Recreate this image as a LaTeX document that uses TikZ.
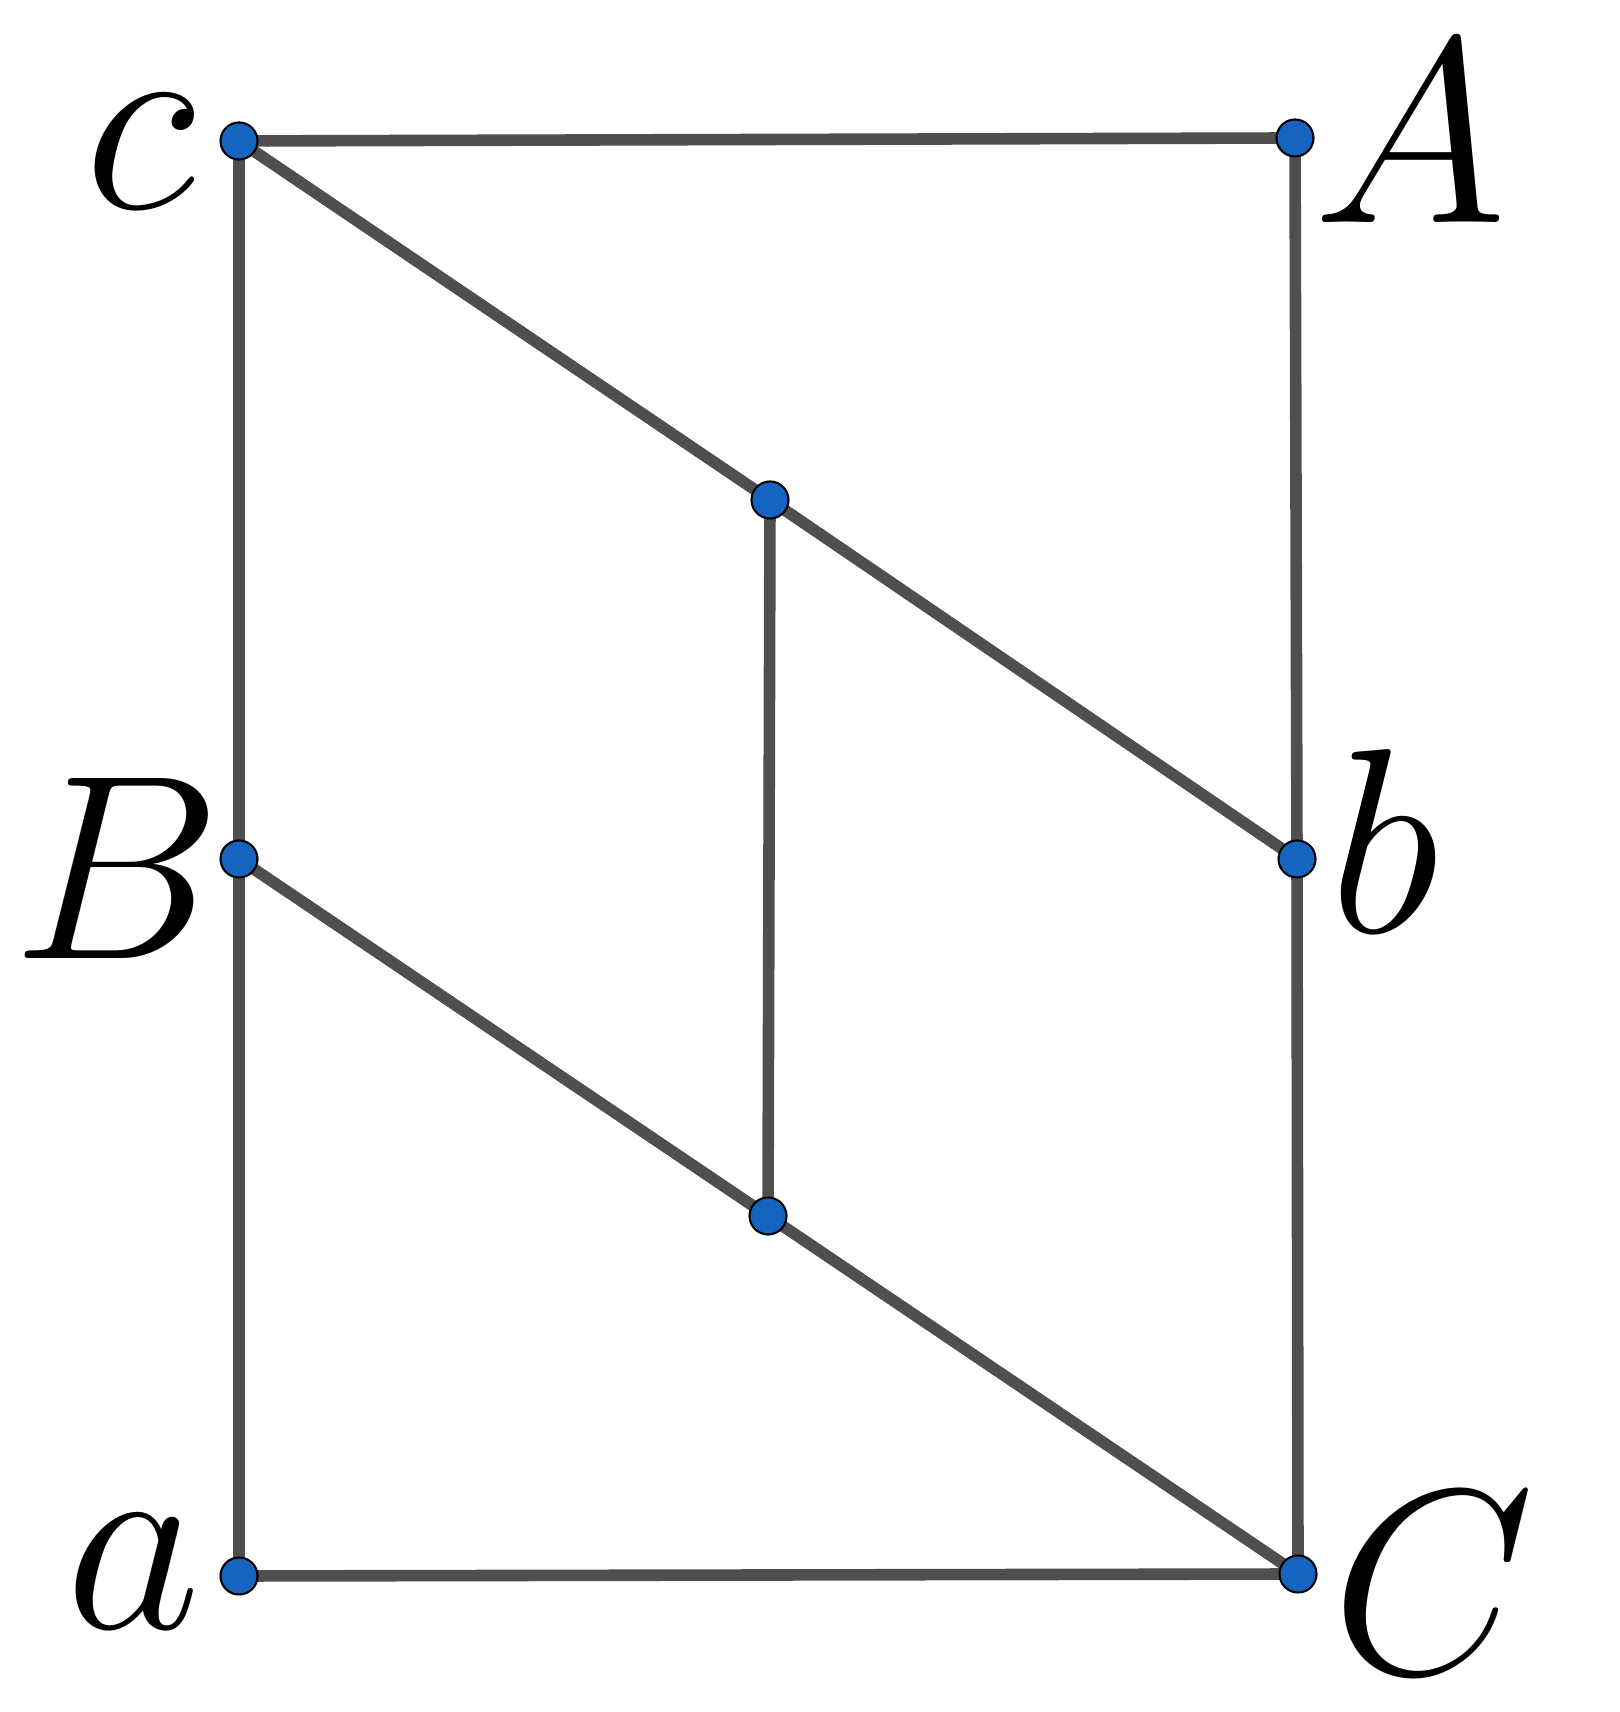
\RequirePackage{fix-cm}
\documentclass[tikz,border=0pt]{standalone}
\usepackage{tikz}
\usetikzlibrary{positioning}
\definecolor{edgegray}{HTML}{4F4F4F}
\definecolor{dotblue}{HTML}{1565C0}
\tikzset{
  seg/.style={draw=edgegray,line width=3.3pt},
  pt/.style={circle,fill=dotblue,draw=black,line width=0.6pt,minimum size=0.37cm,inner sep=0pt},
  lbl/.style={inner sep=0pt,font=\fontsize{75}{78}\selectfont}
}
\begin{document}
\begin{tikzpicture}
\useasboundingbox (0,0) rectangle (16.2,17.12);
\coordinate (c) at (2.39,15.71);
\coordinate (A) at (12.95,15.74);
\coordinate (B) at (2.39,8.53);
\coordinate (b) at (12.97,8.53);
\coordinate (a) at (2.39,1.36);
\coordinate (C) at (12.98,1.38);
\coordinate (M) at (7.70,12.12);
\coordinate (N) at (7.68,4.96);
\draw[seg] (c) -- (A) -- (b) -- (C) -- (a) -- (B) -- cycle;
\draw[seg] (c) -- (M) -- (b);
\draw[seg] (B) -- (N) -- (C);
\draw[seg] (M) -- (N);
\foreach \p in {c,A,B,b,a,C,M,N}
  \node[pt] (dot\p) at (\p) {};
\node[lbl] (lc) at (1.40,15.60) {$c$};
\node[lbl] (lA) at (14.10,15.80) {$A$};
\node[lbl] (lB) at (1.17,8.44) {$B$};
\node[lbl] (lb) at (13.84,8.71) {$b$};
\node[lbl] (la) at (1.33,1.40) {$a$};
\node[lbl] (lC) at (14.33,1.29) {$C$};
\end{tikzpicture}
\end{document}
